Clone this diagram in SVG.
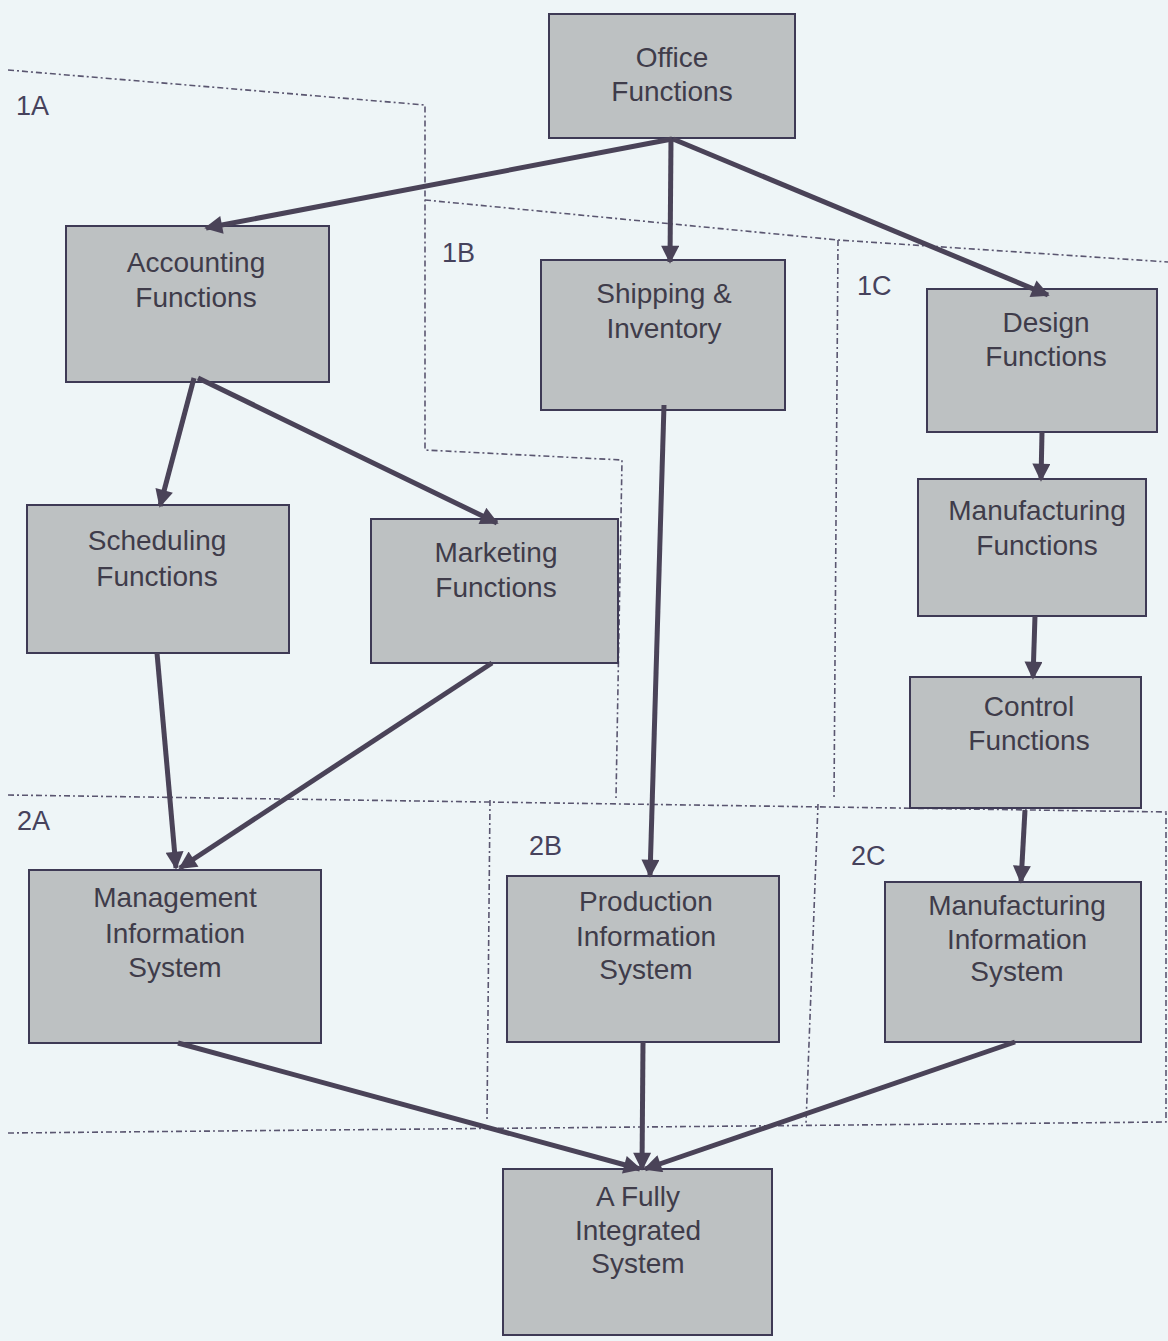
<svg xmlns="http://www.w3.org/2000/svg" width="1168" height="1341" viewBox="0 0 1168 1341">
<style>
.bg{fill:#eef5f7}
.node rect{fill:#bdc1c2;stroke:#3e3a55;stroke-width:2}
.node text{font-family:"Liberation Sans",Arial,sans-serif;font-size:28px;fill:#3f3c4a;text-anchor:middle}
.region{fill:none;stroke:#5a5670;stroke-width:1.6;stroke-dasharray:6 3 2 3}
.rlabel{font-family:"Liberation Sans",Arial,sans-serif;font-size:27px;fill:#46425c}
.conn line{stroke:#4a4358;stroke-width:5;marker-end:url(#ah)}
</style>
<defs>
<marker id="ah" viewBox="0 0 10 10" refX="9" refY="5" markerWidth="22" markerHeight="18" markerUnits="userSpaceOnUse" orient="auto">
<path d="M0,0 L10,5 L0,10 z" fill="#4a4358"/>
</marker>
</defs>
<rect class="bg" x="0" y="0" width="1168" height="1341"/>
<g id="regions">
<path class="region" d="M8,70 L425,105 L425,450 L622,460 L616,798"/>
<path class="region" d="M425,200 L838,240 L1168,262"/>
<path class="region" d="M838,240 L834,800"/>
<path class="region" d="M8,795 L1168,812"/>
<path class="region" d="M490,800 L487,1120"/>
<path class="region" d="M818,804 L806,1124"/>
<path class="region" d="M8,1133 L1166,1122 L1166,812"/>
<text class="rlabel" x="16" y="115">1A</text>
<text class="rlabel" x="442" y="262">1B</text>
<text class="rlabel" x="857" y="295">1C</text>
<text class="rlabel" x="17" y="830">2A</text>
<text class="rlabel" x="529" y="855">2B</text>
<text class="rlabel" x="851" y="865">2C</text>
</g>
<g id="office" class="node"><rect x="549" y="14" width="246" height="124"/><text x="672" y="67">Office</text><text x="672" y="101">Functions</text></g>
<g id="accounting" class="node"><rect x="66" y="226" width="263" height="156"/><text x="196" y="272">Accounting</text><text x="196" y="307">Functions</text></g>
<g id="shipping" class="node"><rect x="541" y="260" width="244" height="150"/><text x="664" y="303">Shipping &amp;</text><text x="664" y="338">Inventory</text></g>
<g id="design" class="node"><rect x="927" y="289" width="230" height="143"/><text x="1046" y="332">Design</text><text x="1046" y="366">Functions</text></g>
<g id="scheduling" class="node"><rect x="27" y="505" width="262" height="148"/><text x="157" y="550">Scheduling</text><text x="157" y="586">Functions</text></g>
<g id="marketing" class="node"><rect x="371" y="519" width="247" height="144"/><text x="496" y="562">Marketing</text><text x="496" y="597">Functions</text></g>
<g id="manufacturing" class="node"><rect x="918" y="479" width="228" height="137"/><text x="1037" y="520">Manufacturing</text><text x="1037" y="555">Functions</text></g>
<g id="control" class="node"><rect x="910" y="677" width="231" height="131"/><text x="1029" y="716">Control</text><text x="1029" y="750">Functions</text></g>
<g id="mis" class="node"><rect x="29" y="870" width="292" height="173"/><text x="175" y="907">Management</text><text x="175" y="943">Information</text><text x="175" y="977">System</text></g>
<g id="pis" class="node"><rect x="507" y="876" width="272" height="166"/><text x="646" y="911">Production</text><text x="646" y="946">Information</text><text x="646" y="979">System</text></g>
<g id="mfgis" class="node"><rect x="885" y="882" width="256" height="160"/><text x="1017" y="915">Manufacturing</text><text x="1017" y="949">Information</text><text x="1017" y="981">System</text></g>
<g id="fully" class="node"><rect x="503" y="1169" width="269" height="166"/><text x="638" y="1206">A Fully</text><text x="638" y="1240">Integrated</text><text x="638" y="1273">System</text></g>
<g id="connectors" class="conn">
<line x1="672" y1="139" x2="206" y2="228"/>
<line x1="671" y1="139" x2="670" y2="262"/>
<line x1="673" y1="139" x2="1048" y2="295"/>
<line x1="194" y1="378" x2="160" y2="506"/>
<line x1="198" y1="378" x2="497" y2="523"/>
<line x1="664" y1="405" x2="650" y2="876"/>
<line x1="1042" y1="432" x2="1041" y2="480"/>
<line x1="1035" y1="616" x2="1033" y2="678"/>
<line x1="1025" y1="810" x2="1021" y2="882"/>
<line x1="157" y1="653" x2="176" y2="868"/>
<line x1="492" y1="663" x2="180" y2="868"/>
<line x1="178" y1="1043" x2="640" y2="1169"/>
<line x1="643" y1="1042" x2="642" y2="1169"/>
<line x1="1015" y1="1042" x2="645" y2="1169"/>
</g>
</svg>
